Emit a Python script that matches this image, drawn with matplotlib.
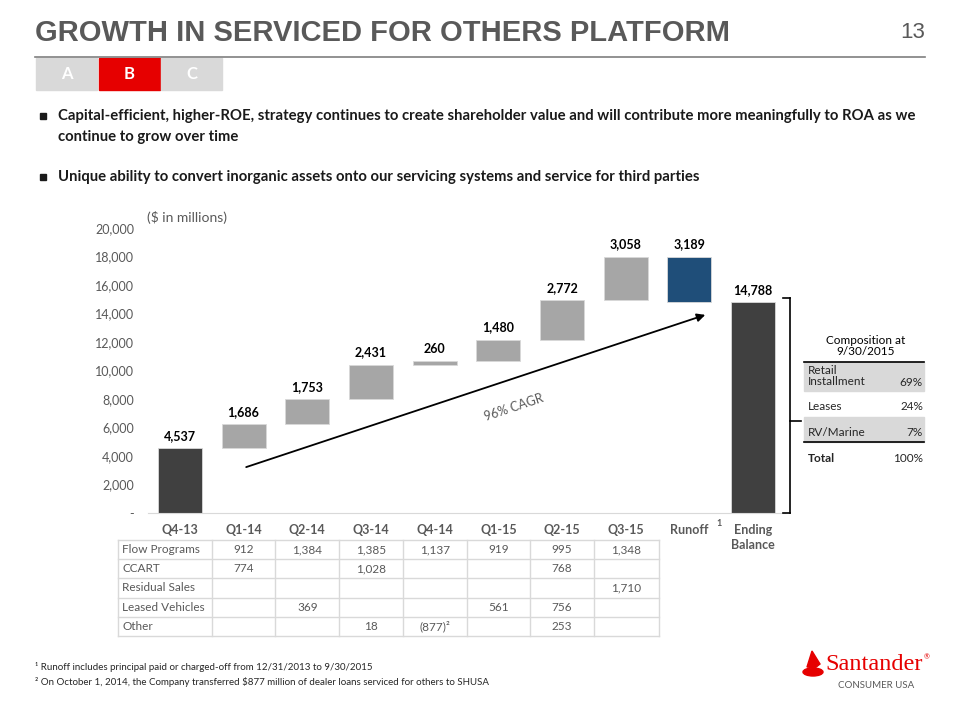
import matplotlib
matplotlib.use("Agg")
import matplotlib.pyplot as plt
from matplotlib.patches import Rectangle, Ellipse, Polygon
from matplotlib.lines import Line2D
import numpy as np

# datos del waterfall
categorias = ['Q4-13', 'Q1-14', 'Q2-14', 'Q3-14', 'Q4-14', 'Q1-15', 'Q2-15', 'Q3-15', 'Runoff', 'Ending\nBalance']
cambios = [4537, 1686, 1753, 2431, 260, 1480, 2772, 3058, -3189, 14788]
tipos = ['total', 'sube', 'sube', 'sube', 'sube', 'sube', 'sube', 'sube', 'baja', 'total']
y_ticks = [0, 2000, 4000, 6000, 8000, 10000, 12000, 14000, 16000, 18000, 20000]

# tabla de abajo
filas = ['Flow Programs', 'CCART', 'Residual Sales', 'Leased Vehicles', 'Other']
flow_programs = ['912', '1,384', '1,385', '1,137', '919', '995', '1,348']
ccart = ['774', '', '1,028', '', '', '768', '']
residual_sales = ['', '', '', '', '', '', '1,710']
leased_vehicles = ['', '369', '', '', '561', '756', '']
other = ['', '', '18', '(877)²', '', '253', '']

# composicion
comp_labels = ['Retail\nInstallment', 'Leases', 'RV/Marine']
comp_pct = [69, 24, 7]
comp_total = 100

W, H = 960, 720
GRIS = '#595959'
FONT = ['Lato', 'DejaVu Sans']
plt.rcParams['font.family'] = FONT


def fx(x):
    return x / W


def fy(y):
    return 1 - y / H


fig = plt.figure(figsize=(9.6, 7.2), dpi=100)

# ---- encabezado
fig.text(fx(35), fy(33), 'GROWTH IN SERVICED FOR OTHERS PLATFORM', fontsize=21, fontweight='bold',
         color=GRIS, family='Liberation Sans', va='center', ha='left')
fig.text(fx(925), fy(33), '13', fontsize=16, color=GRIS, family='Liberation Sans', va='center', ha='right')
fig.add_artist(Line2D([fx(35), fx(925)], [fy(57), fy(57)], color='#7f7f7f', lw=1.2))
for i, (letra, col) in enumerate(zip(['A', 'B', 'C'], ['#d9d9d9', '#e60000', '#d9d9d9'])):
    x0 = 36 + i * 62.5
    fig.add_artist(Rectangle((fx(x0), fy(90)), fx(61), 32 / H, color=col, transform=fig.transFigure))
    fig.text(fx(x0 + 30.5), fy(74), letra, color='white', fontsize=12, fontweight='bold',
             ha='center', va='center')

# ---- bullets
bullets = [(116, 'Capital-efficient, higher-ROE, strategy continues to create shareholder value and will contribute more meaningfully to ROA as we'),
           (137, 'continue to grow over time'),
           (177, 'Unique ability to convert inorganic assets onto our servicing systems and service for third parties')]
for y, t in bullets:
    fig.text(fx(58), fy(y), t, fontsize=10.7, fontweight='bold', color='#1a1a1a', va='center')
for y in (116, 177):
    fig.add_artist(Rectangle((fx(40), fy(y + 3)), fx(6), 6 / H, color='#1a1a1a', transform=fig.transFigure))

# ---- waterfall
ax = fig.add_axes([fx(148), fy(513), fx(785 - 148), (513 - 228) / H])
x = np.arange(len(categorias))
bottoms, heights, colores = [], [], []
acum = 0
for c, t in zip(cambios, tipos):
    if t == 'total':
        bottoms.append(0)
        heights.append(c)
        colores.append('#404040')
        acum = c
    elif t == 'sube':
        bottoms.append(acum)
        heights.append(c)
        colores.append('#a6a6a6')
        acum += c
    else:
        acum += c
        bottoms.append(acum)
        heights.append(-c)
        colores.append('#1f4e79')
ax.bar(x, heights, bottom=bottoms, width=0.69, color=colores, edgecolor='#d9d9d9', linewidth=0.6)
for xi, b, h, c in zip(x, bottoms, heights, cambios):
    ax.text(xi, b + h + 450, f'{abs(c):,}', ha='center', va='bottom', fontsize=9,
            fontweight='bold', color='black')

ax.set_xlim(-0.5, 9.5)
ax.set_ylim(0, 20000)
ax.set_yticks(y_ticks)
ax.set_yticklabels(['-'] + [f'{v:,}' for v in y_ticks[1:]], fontsize=9, color=GRIS)
ax.set_xticks(x)
ax.set_xticklabels(categorias, fontsize=9, fontweight='bold', color=GRIS, linespacing=1.3)
ax.tick_params(length=0, axis='y', pad=10)
ax.tick_params(length=0, axis='x', pad=8)
for s in ['top', 'right', 'left']:
    ax.spines[s].set_visible(False)
ax.spines['bottom'].set_color('#d9d9d9')
ax.text(8.42, -750, '1', fontsize=6.5, color=GRIS, fontweight='bold', va='center', ha='left')

ax.annotate('', xy=(8.29, 13965), xytext=(1.0, 3160),
            arrowprops=dict(arrowstyle='-|>', color='black', lw=1.3, mutation_scale=12))
ax.text(5.25, 7400, '96% CAGR', rotation=18.5, fontsize=9, color=GRIS, ha='center', va='center')
fig.text(fx(147), fy(218), '($ in millions)', fontsize=10, color=GRIS, va='center')

# ---- llave (bracket)
for seg in ([(783, 298), (790, 298)], [(790, 298), (790, 513)], [(783, 513), (790, 513)],
            [(790, 421), (801, 421)]):
    fig.add_artist(Line2D([fx(seg[0][0]), fx(seg[1][0])], [fy(seg[0][1]), fy(seg[1][1])],
                          color='black', lw=1.2))

# ---- tabla de composicion
fig.text(fx(866), fy(346), 'Composition at\n9/30/2015', fontsize=8.5, color='black', ha='center',
         va='center', linespacing=1.0)
fig.add_artist(Rectangle((fx(804), fy(391)), fx(120), 29 / H, color='#d9d9d9', transform=fig.transFigure))
fig.add_artist(Rectangle((fx(804), fy(442)), fx(120), 25 / H, color='#d9d9d9', transform=fig.transFigure))
fig.add_artist(Line2D([fx(804), fx(924)], [fy(362), fy(362)], color='black', lw=1.2))
fig.add_artist(Line2D([fx(804), fx(924)], [fy(442), fy(442)], color='black', lw=1.2))
for y, lab, p in zip([376, 407, 433], comp_labels, comp_pct):
    fig.text(fx(808), fy(y), lab, fontsize=8.5, color='#262626', va='center', linespacing=1.0)
    yp = y + 6 if '\n' in lab else y
    fig.text(fx(923), fy(yp), f'{p}%', fontsize=8.5, color='#262626', va='center', ha='right')
fig.text(fx(808), fy(458), 'Total', fontsize=8.5, fontweight='bold', color='#262626', va='center')
fig.text(fx(923), fy(458), f'{comp_total}%', fontsize=8.5, color='#262626', va='center', ha='right')

# ---- tabla de abajo
axt = fig.add_axes([fx(148), fy(636), fx(785 - 148), 96 / H])
axt.set_xlim(-0.5, 9.5)
axt.set_ylim(5, 0)
axt.axis('off')
datos = [flow_programs, ccart, residual_sales, leased_vehicles, other]
izq, der = -0.975, 7.52
borde = '#d9d9d9'
for r in range(6):
    axt.plot([izq, der], [r, r], color=borde, lw=1, clip_on=False)
for xc in [izq, 0.5, 1.5, 2.5, 3.5, 4.5, 5.5, 6.5, der]:
    axt.plot([xc, xc], [0, 5], color=borde, lw=1, clip_on=False)
for r, (nombre, vals) in enumerate(zip(filas, datos)):
    axt.text(izq + 0.07, r + 0.68, nombre, fontsize=8.5, color=GRIS, va='baseline', ha='left', clip_on=False)
    for c, v in enumerate(vals):
        axt.text(c + 1, r + 0.68, v, fontsize=8.5, color=GRIS, va='baseline', ha='center')

# ---- notas al pie
fig.text(fx(35), fy(667), '¹ Runoff includes principal paid or charged-off from 12/31/2013 to 9/30/2015',
         fontsize=7, color='#262626', va='center')
fig.text(fx(35), fy(682), '² On October 1, 2014, the Company transferred $877 million of dealer loans serviced for others to SHUSA',
         fontsize=7, color='#262626', va='center')

# ---- logo
ROJO = '#e60000'
fig.add_artist(Ellipse((fx(813), fy(672)), fx(20), 8 / H, color=ROJO, transform=fig.transFigure))
fig.add_artist(Polygon([(fx(807), fy(667)), (fx(812), fy(651)), (fx(820), fy(664)), (fx(815), fy(668))],
                       closed=True, color=ROJO, transform=fig.transFigure))
fig.text(fx(825), fy(664), 'Santander', fontsize=17.5, color=ROJO, family='Liberation Serif', va='center')
fig.text(fx(924), fy(657), '®', fontsize=5, color=ROJO, va='center')
fig.text(fx(876), fy(686), 'CONSUMER USA', fontsize=7, color=GRIS, va='center', ha='center')

fig.savefig('out.png', dpi=100)
